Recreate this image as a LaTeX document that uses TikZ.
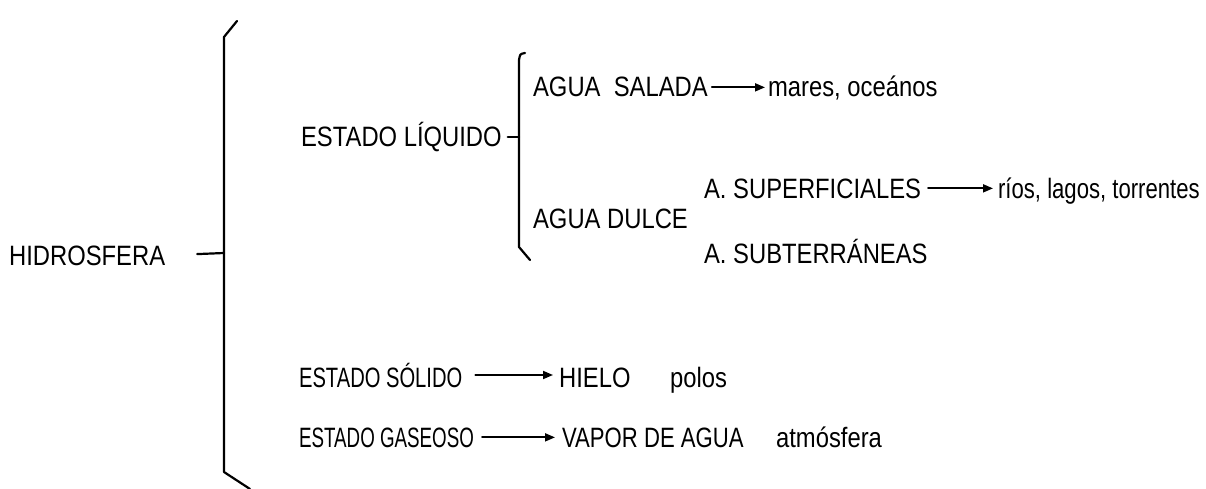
\documentclass[tikz,border=0pt]{standalone}
\usepackage{fontspec}
\setmainfont{Liberation Sans}[FakeStretch=0.85]
\newfontfamily\slimfont{Liberation Sans}[FakeStretch=0.79]
\newfontfamily\solidofont{Liberation Sans}[FakeStretch=0.72]
\newfontfamily\gasfont{Liberation Sans}[FakeStretch=0.67]
\usetikzlibrary{arrows.meta}

\begin{document}
\begin{tikzpicture}[x=1pt, y=-1pt, line width=2.2pt, line cap=round, line join=round,
  lbl/.style={anchor=base west, inner sep=0pt, font=\fontsize{28.0}{33.0}\selectfont},
  arr/.style={line width=1.8pt, -{Triangle[length=10pt,width=8pt]}}]

  %% ════ labels ════
  \node[lbl] (hidro) at (8.0,265.0) {HIDROSFERA};   % box(8,245,159,20)
  \node[lbl] (liquido) at (300.0,147.0) {ESTADO LÍQUIDO};   % box(300,127,202,20)
  \node[lbl] (salada) at (532.0,97.0) {AGUA\ \ SALADA};   % box(532,77,173,20)
  \node[lbl] (mares) at (767.0,97.0) {mares, oceános};
  \node[lbl] (dulce) at (532.0,228.0) {AGUA DULCE};
  \node[lbl] (superf) at (703.0,198.0) {A. SUPERFICIALES};
  \node[lbl, font=\slimfont\fontsize{28.0}{33.0}\selectfont] (rios) at (997.0,198.0) {ríos, lagos, torrentes};
  \node[lbl] (subte) at (703.0,263.0) {A. SUBTERRÁNEAS};
  \node[lbl, font=\solidofont\fontsize{28.0}{33.0}\selectfont] (solido) at (298.0,387.0) {ESTADO SÓLIDO};
  \node[lbl] (hielo) at (558.0,387.0) {HIELO};
  \node[lbl] (polos) at (669.0,387.0) {polos};
  \node[lbl, font=\gasfont\fontsize{28.0}{33.0}\selectfont] (gaseoso) at (298.0,447.0) {ESTADO GASEOSO};
  \node[lbl, font=\slimfont\fontsize{28.0}{33.0}\selectfont] (vapor) at (561.0,447.0) {VAPOR DE AGUA};
  \node[lbl] (atmos) at (775.0,447.0) {atmósfera};

  %% ════ brackets ════
  \coordinate (outerTop) at (224.0,37.0);
  \coordinate (outerMid) at (224.0,253.0);
  \coordinate (outerBot) at (224.0,472.0);
  \draw (237.0,21.0) -- (outerTop) -- (outerBot) -- (250.0,489.0);
  \draw[shorten <=31pt] (hidro.east) -- (outerMid);

  \coordinate (innerTop) at (519.0,60.0);
  \coordinate (innerMid) at (519.0,137.0);
  \coordinate (innerBot) at (519.0,247.0);
  \draw (525.0,53.0) .. controls (520.0,54.0) .. (innerTop) -- (innerBot) -- (530.0,260.0);
  \draw[shorten <=5pt] (liquido.east |- innerMid) -- (innerMid);

  %% ════ arrows ════
  \draw[arr, shorten <=3pt, shorten >=2pt] (salada.east) -- (mares.west |- salada.east);
  \draw[arr, shorten <=6pt, shorten >=4pt] (superf.east) -- (rios.west |- superf.east);
  \draw[arr, shorten <=12pt, shorten >=5pt] (solido.east) -- (hielo.west |- solido.east);
  \draw[arr, shorten <=7pt, shorten >=6pt] (gaseoso.east) -- (vapor.west |- gaseoso.east);

  % fix the canvas
  \pgfresetboundingbox
  \path[use as bounding box] (0,0) rectangle (1206,489);
\end{tikzpicture}
\end{document}
